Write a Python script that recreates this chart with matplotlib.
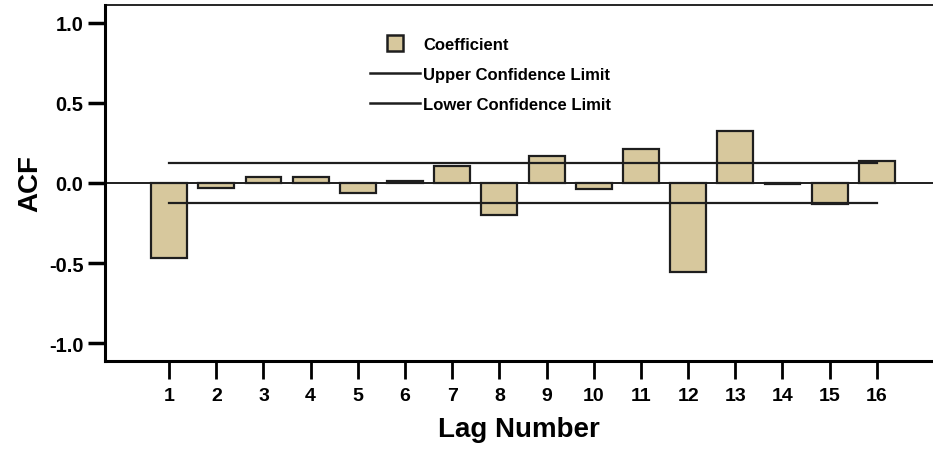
import matplotlib
matplotlib.use("Agg")
import matplotlib.pyplot as plt
from matplotlib.lines import Line2D

# ACF values
lags = list(range(1, 17))
acf = [-0.47, -0.03, 0.04, 0.04, -0.065, 0.01, 0.105, -0.20,
       0.17, -0.04, 0.21, -0.555, 0.325, -0.005, -0.13, 0.135]
upper_cl = [0.125] * 16
lower_cl = [-0.125] * 16

plt.rcParams['font.family'] = ['Liberation Sans Narrow', 'Liberation Sans', 'DejaVu Sans']
bar_col = '#d7c89d'
edge_col = '#1e1e1e'

fig = plt.figure(figsize=(9.33, 4.52), dpi=100)
ax = fig.add_axes([0.1125, 0.199, 0.8875, 0.788])

ax.bar(lags, acf, width=0.76, color=bar_col, edgecolor=edge_col, linewidth=1.6, zorder=2)
ax.plot(lags, upper_cl, color=edge_col, linewidth=1.6, zorder=3)
ax.plot(lags, lower_cl, color=edge_col, linewidth=1.6, zorder=3)
ax.axhline(0, color=edge_col, linewidth=1.4, zorder=1)

ax.set_xlim(-0.36, 17.19)
ax.set_ylim(-1.1125, 1.1125)
ax.set_xticks(lags)
ax.set_yticks([-1.0, -0.5, 0.0, 0.5, 1.0])
ax.set_yticklabels(['-1.0', '-0.5', '0.0', '0.5', '1.0'])

ax.spines['right'].set_visible(False)
for s in ['left', 'bottom']:
    ax.spines[s].set_linewidth(2.2)
ax.spines['top'].set_linewidth(1.2)
ax.tick_params(axis='y', direction='out', length=12.5, width=2.5, labelsize=14.5, pad=3)
ax.tick_params(axis='x', direction='out', length=13, width=2, labelsize=14, pad=6)
for lb in ax.get_yticklabels():
    lb.set_family(['Liberation Sans', 'DejaVu Sans'])
    lb.set_fontweight('bold')
for lb in ax.get_xticklabels():
    lb.set_fontweight('bold')

ax.set_ylabel('ACF', fontsize=20, fontweight='bold', family=['Liberation Sans', 'DejaVu Sans'], labelpad=4)
ax.set_xlabel('Lag Number', fontsize=20, fontweight='bold', labelpad=8)

handles = [
    Line2D([], [], marker='s', linestyle='none', markersize=12,
           markerfacecolor=bar_col, markeredgecolor=edge_col, markeredgewidth=1.8),
    Line2D([], [], color=edge_col, linewidth=1.8),
    Line2D([], [], color=edge_col, linewidth=1.8),
]
leg = ax.legend(handles, ['Coefficient', 'Upper Confidence Limit', 'Lower Confidence Limit'],
                loc='upper left', bbox_to_anchor=(0.302, 0.952), frameon=False,
                handlelength=3.0, handletextpad=0.2, labelspacing=0.9,
                prop={'weight': 'bold', 'size': 12})

fig.savefig('out.png', dpi=100)
